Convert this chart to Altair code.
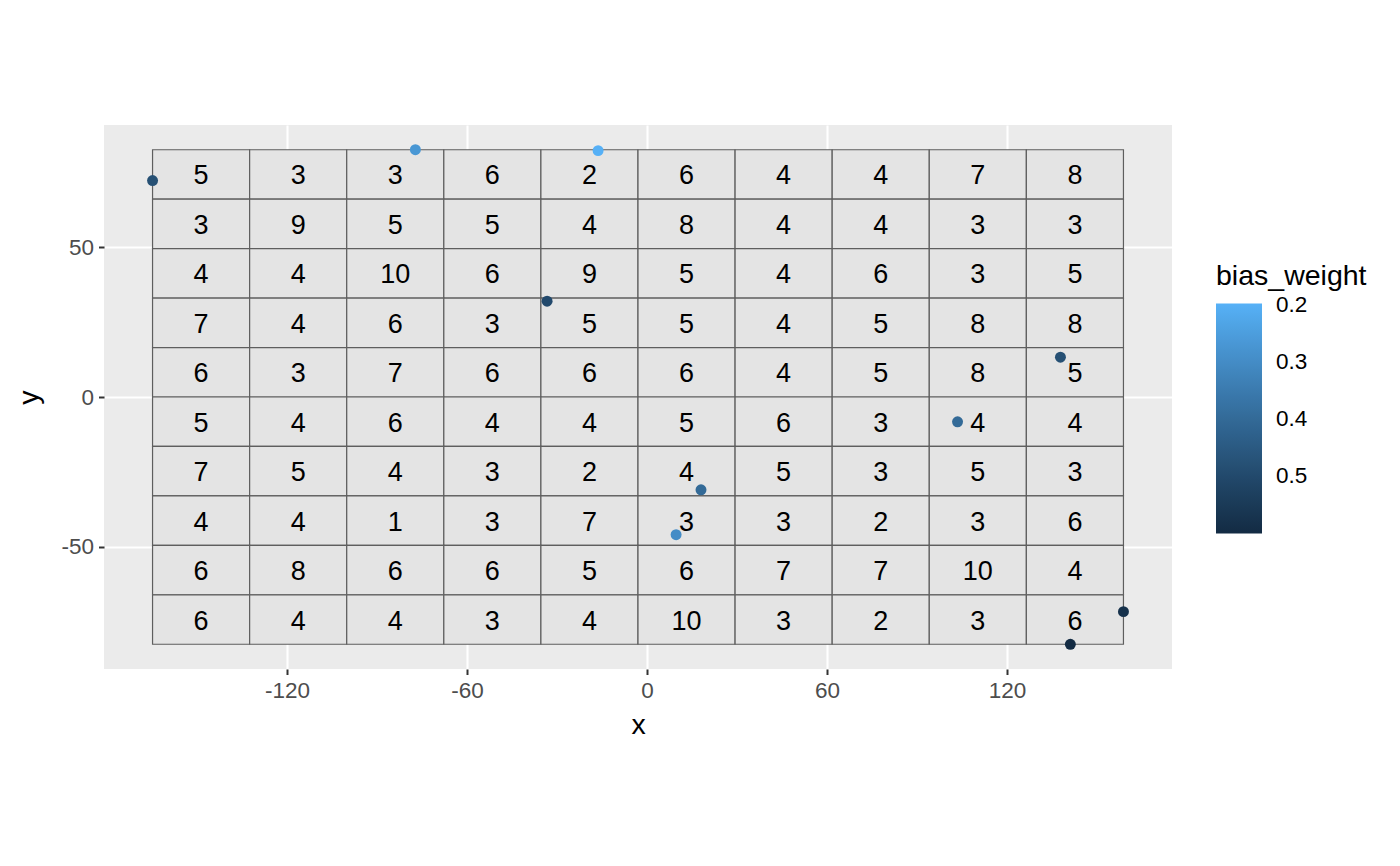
import altair as alt
import pandas as pd
import numpy as np

# Points
pt_x = [-164.8, -77.2, -16.3, -33.3, 137.8, 103.5, 18.0, 9.7, 158.8, 141.1]
pt_y = [72.3, 82.6, 82.3, 32.0, 13.3, -8.3, -31.0, -46.0, -71.7, -82.6]
bias_weight = [0.48, 0.27, 0.20, 0.50, 0.48, 0.40, 0.40, 0.30, 0.58, 0.60]

# Counts per cell, rows from top to bottom, columns left to right
counts = [
    [5, 3, 3, 6, 2, 6, 4, 4, 7, 8],
    [3, 9, 5, 5, 4, 8, 4, 4, 3, 3],
    [4, 4, 10, 6, 9, 5, 4, 6, 3, 5],
    [7, 4, 6, 3, 5, 5, 4, 5, 8, 8],
    [6, 3, 7, 6, 6, 6, 4, 5, 8, 5],
    [5, 4, 6, 4, 4, 5, 6, 3, 4, 4],
    [7, 5, 4, 3, 2, 4, 5, 3, 5, 3],
    [4, 4, 1, 3, 7, 3, 3, 2, 3, 6],
    [6, 8, 6, 6, 5, 6, 7, 7, 10, 4],
    [6, 4, 4, 3, 4, 10, 3, 2, 3, 6],
]

x_ticks = [-120, -60, 0, 60, 120]
y_ticks = [-50, 0, 50]
legend_ticks = [0.2, 0.3, 0.4, 0.5]
color_domain = [0.6, 0.198]

pts = pd.DataFrame({"x": pt_x, "y": pt_y, "bias_weight": bias_weight})

nrow = len(counts)
ncol = len(counts[0])
xe = np.linspace(min(pt_x), max(pt_x), ncol + 1)
ye = np.linspace(max(pt_y), min(pt_y), nrow + 1)
rows = []
for r in range(nrow):
    for c in range(ncol):
        rows.append({
            "x": xe[c], "x2": xe[c + 1],
            "y": ye[r + 1], "y2": ye[r],
            "cx": (xe[c] + xe[c + 1]) / 2, "cy": (ye[r] + ye[r + 1]) / 2,
            "n": counts[r][c],
        })
cells = pd.DataFrame(rows)

FONT = "Liberation Sans"
TITLE_SIZE = 28.5
LABEL_SIZE = 22.5
xrng = max(pt_x) - min(pt_x)
yrng = max(pt_y) - min(pt_y)
xdom = [min(pt_x) - 0.05 * xrng, max(pt_x) + 0.05 * xrng]
ydom = [min(pt_y) - 0.05 * yrng, max(pt_y) + 0.05 * yrng]

xscale = alt.Scale(domain=xdom, nice=False, zero=False)
yscale = alt.Scale(domain=ydom, nice=False, zero=False)

common_axis = dict(grid=True, gridColor="white", gridWidth=2.1,
                   domain=False, tickColor="#333333", tickSize=5.5, tickWidth=2,
                   labelColor="#4D4D4D", labelFontSize=LABEL_SIZE, labelFont=FONT, labelPadding=5,
                   labelExpr="toString(datum.value)",
                   titleFont=FONT, titleFontSize=TITLE_SIZE, titleFontWeight="normal",
                   titleColor="black")
xaxis = alt.Axis(values=x_ticks, title="x", titlePadding=8, **common_axis)
yaxis = alt.Axis(values=y_ticks, title="y", titlePadding=17, **common_axis)

rect = alt.Chart(cells).mark_rect(fill="#E4E4E4", stroke="#5E5E5E", strokeWidth=1.2).encode(
    x=alt.X("x:Q", scale=xscale, axis=xaxis),
    x2="x2:Q",
    y=alt.Y("y:Q", scale=yscale, axis=yaxis),
    y2="y2:Q",
)

text = alt.Chart(cells).mark_text(font=FONT, fontSize=27, color="black", baseline="middle",
                                  align="center", dy=2).encode(
    x=alt.X("cx:Q", scale=xscale),
    y=alt.Y("cy:Q", scale=yscale),
    text="n:Q",
)

points = alt.Chart(pts).mark_circle(size=120, opacity=1).encode(
    x=alt.X("x:Q", scale=xscale),
    y=alt.Y("y:Q", scale=yscale),
    color=alt.Color("bias_weight:Q",
                    scale=alt.Scale(domain=color_domain, range=["#132B43", "#56B1F7"],
                                    interpolate="lab", nice=False, zero=False),
                    legend=alt.Legend(title="bias_weight", values=legend_ticks,
                                      orient="none", legendX=1112, legendY=137,
                                      gradientLength=230, gradientThickness=46,
                                      gradientStrokeWidth=0,
                                      titleFont=FONT, titleFontSize=TITLE_SIZE,
                                      titleFontWeight="normal",
                                      titleColor="black", titlePadding=13,
                                      labelFont=FONT, labelFontSize=LABEL_SIZE, labelColor="black",
                                      labelBaseline="middle",
                                      labelOffset=14, labelOverlap=False, direction="vertical")),
)

chart = alt.layer(rect, text, points).properties(
    width=1068, height=544,
    background="white",
    autosize=alt.AutoSizeParams(type="none"),
    padding={"left": 104, "top": 125, "right": 228, "bottom": 197},
).configure_view(fill="#EBEBEB", strokeWidth=0)

chart.save("out.html", embed_options={"renderer": "svg", "actions": False})
